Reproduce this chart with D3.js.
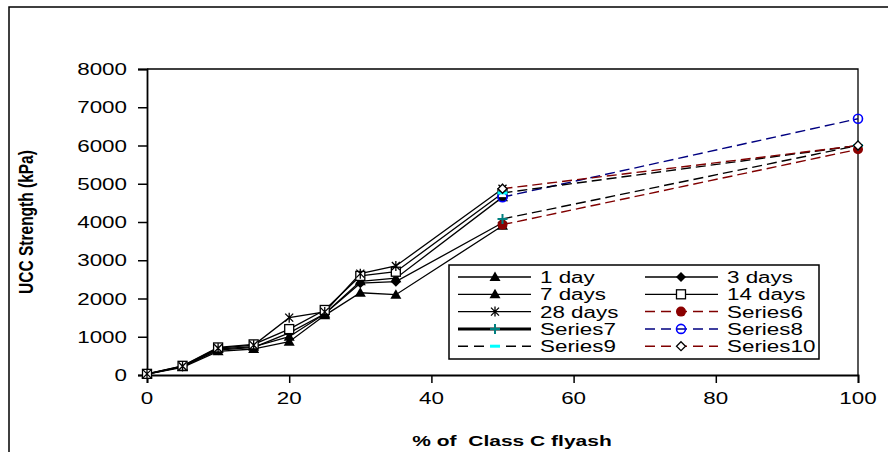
<!DOCTYPE html>
<html>
<head>
<meta charset="utf-8">
<script src="https://cdn.jsdelivr.net/npm/d3@7"></script>
<style>
  body { margin: 0; background: #fff; }
  text { font-family: "Liberation Sans", Arial, sans-serif; white-space: pre; }
</style>
</head>
<body>
<div id="chart"></div>
<script>
// values
const xPct = [0, 5, 10, 15, 20, 25, 30, 35, 50]
const day1 = [20, 200, 620, 680, 870, 1560, 2150, 2100, 3900]
const day3 = [20, 220, 650, 720, 1100, 1600, 2400, 2440, 3980]
const day7 = [20, 220, 680, 740, 1000, 1600, 2450, 2530, 4650]
const day14 = [30, 240, 720, 800, 1200, 1700, 2590, 2700, 4750]
const day28 = [30, 230, 700, 780, 1500, 1650, 2650, 2850, 4870]

const xExt = [50, 100]
const series6 = [3930, 5900]
const series7 = [4080, 6000]
const series8 = [4650, 6700]
const series9 = [4760, 6000]
const series10 = [4870, 6000]

const yTicks = [0, 1000, 2000, 3000, 4000, 5000, 6000, 7000, 8000]
const xTicks = [0, 20, 40, 60, 80, 100]

const W = 888, H = 452
const plot = { left: 147, right: 858, top: 69, bottom: 375 }
const stretch = 1.4   // the original picture's text is widened

const svg = d3.select("#chart").append("svg")
  .attr("width", W).attr("height", H)

const x = d3.scaleLinear([0, 100], [plot.left, plot.right])
const y = d3.scaleLinear([0, 8000], [plot.bottom, plot.top])

//stretched text helper
function label(g, tx, ty, str, opts = {}) {
  return g.append("text")
    .attr("transform", `translate(${tx},${ty}) scale(${stretch},1)`)
    .attr("text-anchor", opts.anchor || "start")
    .attr("font-size", opts.size || 16)
    .attr("font-weight", opts.bold ? "bold" : "normal")
    .attr("fill", "#000")
    .text(str)
}

// outer frame (only top and left visible)
svg.append("path")
  .attr("d", `M9,${H} L9,7 L${W},7`)
  .attr("fill", "none").attr("stroke", "#000").attr("stroke-width", 1.5)

// plot frame top/right
svg.append("path")
  .attr("d", `M${plot.left},${plot.top} L${plot.right},${plot.top} L${plot.right},${plot.bottom}`)
  .attr("fill", "none").attr("stroke", "#000").attr("stroke-width", 1.3)

// axes
svg.append("g")
  .attr("transform", `translate(${plot.left},0)`)
  .call(d3.axisLeft(y).tickValues(yTicks).tickSize(9).tickFormat(""))
svg.append("g")
  .attr("transform", `translate(0,${plot.bottom})`)
  .call(d3.axisBottom(x).tickValues(xTicks).tickSize(8).tickFormat(""))
svg.selectAll(".domain").attr("stroke", "#000").attr("stroke-width", 1.8)
svg.selectAll(".tick line").attr("stroke", "#000").attr("stroke-width", 1.5)

yTicks.forEach(v => label(svg, 127, y(v) + 6, String(v), { anchor: "end" }))
xTicks.forEach(v => label(svg, x(v), 404, String(v), { anchor: "middle" }))

label(svg, 512, 446, "% of  Class C flyash", { anchor: "middle", bold: true, size: 15 })
svg.append("text")
  .attr("transform", `translate(33,222) scale(1.3,1) rotate(-90)`)
  .attr("text-anchor", "middle")
  .attr("font-size", 15.5)
  .attr("font-weight", "bold")
  .text("UCC Strength (kPa)")

// marker drawing
function marker(g, type, cx, cy) {
  const m = g.append("g").attr("transform", `translate(${cx},${cy})`)
  if (type === "tri") {
    m.append("path").attr("d", "M0,-5.5L5.5,4L-5.5,4Z").attr("fill", "#000")
  } else if (type === "dia") {
    m.append("path").attr("d", "M0,-5L5,0L0,5L-5,0Z").attr("fill", "#000")
  } else if (type === "sq") {
    m.append("rect").attr("x", -4.5).attr("y", -4.5).attr("width", 9).attr("height", 9)
      .attr("fill", "#fff").attr("stroke", "#000").attr("stroke-width", 1.3)
  } else if (type === "star") {
    m.append("path").attr("d", "M-4,-4L4,4M-4,4L4,-4M0,-5L0,5")
      .attr("stroke", "#000").attr("stroke-width", 1.3)
  } else if (type === "dot") {
    m.append("circle").attr("r", 5).attr("fill", "#8b0000")
  } else if (type === "plus") {
    m.append("path").attr("d", "M-5,0L5,0M0,-5L0,5").attr("stroke", "#008080").attr("stroke-width", 2)
  } else if (type === "ring") {
    m.append("circle").attr("r", 4.5).attr("fill", "none").attr("stroke", "#0000ff").attr("stroke-width", 1.6)
  } else if (type === "dash") {
    m.append("path").attr("d", "M-5,0L5,0").attr("stroke", "#00ffff").attr("stroke-width", 3)
  } else if (type === "wdia") {
    m.append("path").attr("d", "M0,-4.5L4.5,0L0,4.5L-4.5,0Z").attr("fill", "#fff")
      .attr("stroke", "#000").attr("stroke-width", 1.3)
  }
}

const solidSeries = [
  { name: "1 day", vals: day1, mk: "tri" },
  { name: "3 days", vals: day3, mk: "dia" },
  { name: "7 days", vals: day7, mk: "tri" },
  { name: "14 days", vals: day14, mk: "sq" },
  { name: "28 days", vals: day28, mk: "star" }
]
const dashSeries = [
  { name: "Series6", vals: series6, mk: "dot", color: "#800000", legendLine: "#800000", dash: true },
  { name: "Series7", vals: series7, mk: "plus", color: "#000", legendLine: "#000", dash: false, thick: true },
  { name: "Series8", vals: series8, mk: "ring", color: "#000080", legendLine: "#000080", dash: true },
  { name: "Series9", vals: series9, mk: "dash", color: "#000", legendLine: "#000", dash: true },
  { name: "Series10", vals: series10, mk: "wdia", color: "#800000", legendLine: "#800000", dash: true }
]

const line = d3.line().x(d => x(d[0])).y(d => y(d[1]))

const gLines = svg.append("g")
solidSeries.forEach(s => {
  gLines.append("path")
    .attr("d", line(xPct.map((p, i) => [p, s.vals[i]])))
    .attr("fill", "none").attr("stroke", "#000").attr("stroke-width", 1.3)
})
dashSeries.forEach(s => {
  gLines.append("path")
    .attr("d", line(xExt.map((p, i) => [p, s.vals[i]])))
    .attr("fill", "none").attr("stroke", s.color).attr("stroke-width", 1.4)
    .attr("stroke-dasharray", "10,5")
})
const gMarks = svg.append("g")
solidSeries.forEach(s => xPct.forEach((p, i) => marker(gMarks, s.mk, x(p), y(s.vals[i]))))
dashSeries.forEach(s => xExt.forEach((p, i) => marker(gMarks, s.mk, x(p), y(s.vals[i]))))

// legend
const legend = svg.append("g")
legend.append("rect")
  .attr("x", 449).attr("y", 265).attr("width", 370).attr("height", 94)
  .attr("fill", "#fff").attr("stroke", "#000").attr("stroke-width", 1.5)

const legendItems = [
  solidSeries[0], solidSeries[1],
  solidSeries[2], solidSeries[3],
  solidSeries[4], dashSeries[0],
  dashSeries[1], dashSeries[2],
  dashSeries[3], dashSeries[4]
]
const colX = [{ l1: 458, l2: 531, m: 495, t: 540 }, { l1: 645, l2: 718, m: 681, t: 727 }]
legendItems.forEach((it, i) => {
  const c = colX[i % 2]
  const ry = 277 + Math.floor(i / 2) * 17.3
  legend.append("line")
    .attr("x1", c.l1).attr("x2", c.l2).attr("y1", ry).attr("y2", ry)
    .attr("stroke", it.legendLine || "#000")
    .attr("stroke-width", it.thick ? 3 : (it.dash ? 1.5 : 1.3))
    .attr("stroke-dasharray", it.dash ? "10,6" : null)
  marker(legend, it.mk, c.m, ry)
  label(legend, c.t, ry + 6, it.name)
})
</script>
</body>
</html>
